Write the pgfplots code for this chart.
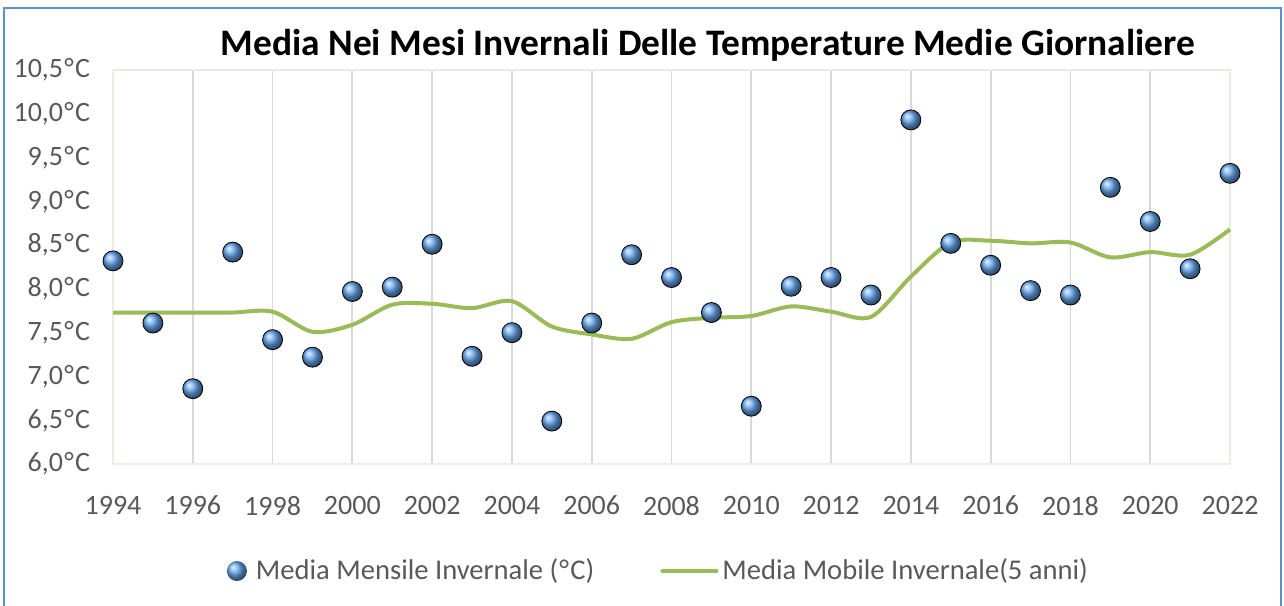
\documentclass[border=0pt]{standalone}
\usepackage{pgfplots}
\pgfplotsset{compat=1.18}
\usepackage{fontspec}
\setmainfont{Carlito}
\definecolor{tickgray}{HTML}{595959}
\definecolor{gridgray}{HTML}{D9D9D9}
\definecolor{framebeige}{HTML}{EEECE1}
\definecolor{ballblue}{HTML}{68A8F0}
\definecolor{linegreen}{HTML}{9BBB59}
\definecolor{borderblue}{HTML}{5B8FD0}
\newcommand{\dg}{\kern0.6pt°\kern0.6ptC}
\begin{document}
\begin{tikzpicture}
\useasboundingbox (0,0) rectangle (642pt,302.5pt);
\draw[borderblue, line width=1pt] (2pt,-5pt) -- (2pt,298.5pt) -- (640.5pt,298.5pt) -- (640.5pt,-5pt);
\node[font=\fontsize{18.7}{20}\selectfont\bfseries, anchor=center] at (354pt,280pt) {Media Nei Mesi Invernali Delle Temperature Medie Giornaliere};
\begin{axis}[
  at={(56.5pt,70.5pt)}, anchor=south west,
  scale only axis, width=558.5pt, height=197pt,
  xmin=1994, xmax=2022, ymin=6, ymax=10.5,
  xtick={1994,1996,...,2022},
  ytick={6,6.5,...,10.5},
  yticklabels={{6,0\dg},{6,5\dg},{7,0\dg},{7,5\dg},{8,0\dg},{8,5\dg},{9,0\dg},{9,5\dg},{10,0\dg},{10,5\dg}},
  /pgf/number format/1000 sep={},
  /pgf/number format/assume math mode=true,
  tick label style={font=\fontsize{14}{16}\selectfont, text=tickgray},
  yticklabel style={xshift=-8pt},
  xticklabel style={yshift=-12.5pt},
  major tick length=0pt,
  axis line style={framebeige, line width=1pt},
  xmajorgrids, ymajorgrids=false,
  grid style={gridgray, line width=0.9pt},
  clip=false,
  legend columns=2,
  legend style={draw=none, fill=none, inner sep=0pt, outer sep=0pt,
    at={(0.102,-0.2716)}, anchor=west,
    font=\fontsize{14.3}{16}\selectfont, text=tickgray,
    nodes={inner xsep=0pt},
    /tikz/every even column/.append style={column sep=33pt}},
]
\addplot[only marks, mark=ball, mark size=5pt, ball color=ballblue,
  legend image code/.code={\pgfpathrectangle{\pgfpoint{0pt}{-1pt}}{\pgfpoint{14.5pt}{2pt}}\pgfusepath{use as bounding box}\shade[ball color=ballblue, draw=none] (5pt,0pt) circle (5pt);}] coordinates {
(1994,8.32) (1995,7.61) (1996,6.86) (1997,8.42) (1998,7.42) (1999,7.22)
(2000,7.97) (2001,8.02) (2002,8.51) (2003,7.23) (2004,7.50) (2005,6.49)
(2006,7.61) (2007,8.39) (2008,8.13) (2009,7.73) (2010,6.66) (2011,8.03)
(2012,8.13) (2013,7.93) (2014,9.93) (2015,8.52) (2016,8.27) (2017,7.98)
(2018,7.93) (2019,9.16) (2020,8.77) (2021,8.23) (2022,9.32)
};
\addlegendentry{Media Mensile Invernale (\kern0.6pt°\kern0.6ptC)}
\addplot[linegreen, line width=2pt, smooth, tension=0.5,
  legend image code/.code={\pgfpathrectangle{\pgfpoint{0pt}{-1pt}}{\pgfpoint{31pt}{2pt}}\pgfusepath{use as bounding box}\draw[linegreen, line width=2pt, line cap=round] (1pt,0pt) -- (28pt,0pt);}] coordinates {
(1994,7.73) (1995,7.73) (1996,7.73) (1997,7.73) (1998,7.74) (1999,7.51)
(2000,7.59) (2001,7.82) (2002,7.83) (2003,7.78) (2004,7.86) (2005,7.57)
(2006,7.48) (2007,7.43) (2008,7.62) (2009,7.67) (2010,7.69) (2011,7.80)
(2012,7.74) (2013,7.68) (2014,8.14) (2015,8.53) (2016,8.55) (2017,8.52)
(2018,8.53) (2019,8.36) (2020,8.42) (2021,8.39) (2022,8.68)
};
\addlegendentry{Media Mobile Invernale(5 anni)}
\end{axis}
\end{tikzpicture}
\end{document}
